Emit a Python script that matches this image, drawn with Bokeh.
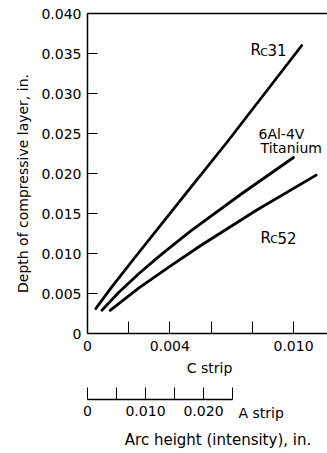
from bokeh.plotting import figure
from bokeh.models import (Range1d, FixedTicker, Label, LinearAxis, PrintfTickFormatter)
from bokeh.embed import file_html
from bokeh.resources import INLINE

# ---- data ----
c_strip_rc31 = [0.0004, 0.0012, 0.0023, 0.0045, 0.0068, 0.0104]
depth_rc31 = [0.0031, 0.0059, 0.0095, 0.0166, 0.0240, 0.0360]
c_strip_ti = [0.0007, 0.0015, 0.0025, 0.0035, 0.0050, 0.0075, 0.0100]
depth_ti = [0.0029, 0.0051, 0.0075, 0.0097, 0.0128, 0.0175, 0.0220]
c_strip_rc52 = [0.0011, 0.0025, 0.0040, 0.0055, 0.0082, 0.0111]
depth_rc52 = [0.0029, 0.0057, 0.0084, 0.0110, 0.0154, 0.0198]

y_ticks = [0, 0.005, 0.010, 0.015, 0.020, 0.025, 0.030, 0.035, 0.040]
c_ticks = [0, 0.002, 0.004, 0.006, 0.008, 0.010]
c_tick_labels = {0: "0", 0.002: "", 0.004: "0.004", 0.006: "", 0.008: "", 0.010: "0.010"}
a_ticks = [0, 0.005, 0.010, 0.015, 0.020, 0.025]
a_tick_labels = {0: "0", 0.005: "", 0.010: "0.010", 0.015: "", 0.020: "0.020", 0.025: ""}

FONT = "DejaVu Sans"
FS = "14px"

C_MAX = 0.01165     # right edge of the plot box (C strip units)
D_MAX = 0.040       # top of the depth scale
A_LEVEL = -0.00825  # depth-axis position of the A strip scale line

# Whole canvas is the plotting frame; axes are pinned with fixed_location.
p = figure(width=327, height=453, output_backend="svg", toolbar_location=None,
           x_range=Range1d(-0.004223, C_MAX), y_range=Range1d(-0.015, 0.041625),
           min_border_left=0, min_border_right=0, min_border_top=0, min_border_bottom=0)
p.outline_line_color = None
p.grid.visible = False
p.extra_x_ranges = {"A": Range1d(-0.015, 0.041379)}

for xs, ys in [(c_strip_rc31, depth_rc31), (c_strip_ti, depth_ti), (c_strip_rc52, depth_rc52)]:
    p.line(xs, ys, line_color="black", line_width=2.8, line_cap="round", line_join="round")

def style(ax, tick_in):
    ax.major_tick_in = tick_in
    ax.major_tick_out = 0
    ax.minor_tick_line_color = None
    ax.axis_line_width = 1.5
    ax.axis_line_color = "black"
    ax.major_tick_line_color = "black"
    ax.major_label_text_font = FONT
    ax.major_label_text_font_size = FS
    ax.major_label_text_color = "black"

# depth axis
ya = p.yaxis[0]
ya.fixed_location = 0
ya.bounds = (0, D_MAX)
ya.ticker = FixedTicker(ticks=y_ticks)
ya.formatter = PrintfTickFormatter(format="%.3f")
ya.major_label_overrides = {0: "0"}
style(ya, 10)
ya.major_label_standoff = 6

# C strip axis
xa = p.xaxis[0]
xa.fixed_location = 0
xa.bounds = (0, C_MAX)
xa.ticker = FixedTicker(ticks=c_ticks)
xa.major_label_overrides = c_tick_labels
style(xa, 12)
xa.major_label_standoff = 7

# top border line of the box
top = LinearAxis(fixed_location=D_MAX, bounds=(0, C_MAX), ticker=FixedTicker(ticks=[]),
                 axis_line_width=1.5, axis_line_color="black",
                 major_tick_line_color=None, minor_tick_line_color=None,
                 major_label_text_alpha=0)
p.add_layout(top, "above")

# A strip axis
aa = LinearAxis(x_range_name="A", fixed_location=A_LEVEL, bounds=(0, 0.025),
                ticker=FixedTicker(ticks=a_ticks), major_label_overrides=a_tick_labels)
style(aa, 12)
aa.major_label_standoff = 6
p.add_layout(aa, "below")

def lab(x, y, t, size=FS, align="left", baseline="alphabetic", angle=0.0):
    p.add_layout(Label(x=x, y=y, text=t, text_font=FONT, text_font_size=size, angle=angle,
                       text_align=align, text_baseline=baseline, text_color="black"))

# axis titles
lab(-0.003155, 0.01875, "Depth of compressive layer, in.", align="center",
    baseline="middle", angle=1.5707963)
lab(0.005922, -0.00425, "C strip", align="center", baseline="middle")
lab(0.00733, -0.009875, "A strip", baseline="middle")
lab(0.006335, -0.01325, "Arc height (intensity), in.", size="15px", align="center",
    baseline="middle")

# curve labels
lab(0.00791, 0.03538, "R", "15px")
lab(0.00838, 0.03510, "C", "11px")
lab(0.00874, 0.03538, "31", "15px")
lab(0.0083, 0.0250, "6Al-4V")
lab(0.0084, 0.02313, "Titanium")
lab(0.0084, 0.0120, "R", "15px")
lab(0.00887, 0.01172, "C", "11px")
lab(0.00922, 0.0120, "52", "15px")

open("out.html", "w").write(file_html(p, INLINE))
